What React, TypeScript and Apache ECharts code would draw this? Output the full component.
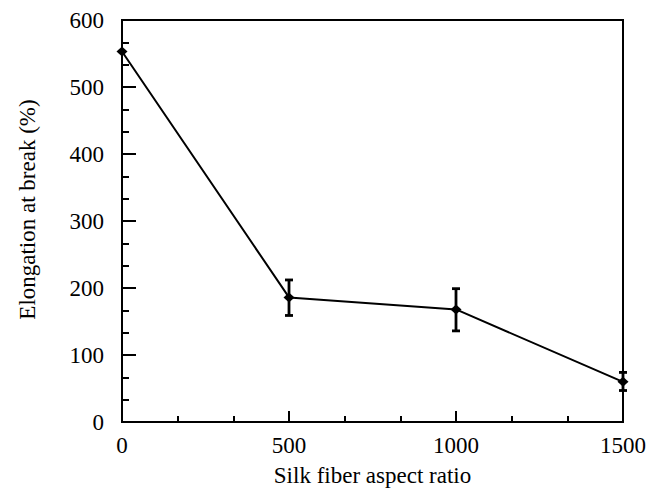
import React, { useEffect, useRef } from "react";
import * as echarts from "echarts";

const xValues = [0, 500, 1000, 1500];
const elongation = [553, 186, 168, 60];
const errX = [500, 1000, 1500];
const errLow = [159, 136, 47];
const errHigh = [212, 199, 74];
const xTitle = "Silk fiber aspect ratio";
const yTitle = "Elongation at break (%)";

const FONT = "'Liberation Serif', 'Times New Roman', serif";

export default function App() {
  const ref = useRef<HTMLDivElement>(null);
  useEffect(() => {
    if (!ref.current) return;
    const chart = echarts.init(ref.current, undefined, { renderer: "svg" });
    const textStyle = { fontFamily: FONT, fontSize: 23, color: "#000" };
    chart.setOption({
      animation: false,
      backgroundColor: "#fff",
      textStyle,
      grid: {
        left: 122,
        right: 36,
        top: 20,
        bottom: 67,
        outerBoundsMode: "none",
        containLabel: false,
        show: true,
        borderColor: "#000",
        borderWidth: 2,
      },
      xAxis: {
        type: "value",
        min: 0,
        max: 1500,
        interval: 500,
        name: xTitle,
        nameLocation: "middle",
        nameGap: 42,
        nameTextStyle: { ...textStyle },
        axisLine: { show: true, lineStyle: { color: "#000", width: 2 } },
        axisTick: { show: true, inside: true, length: 11, lineStyle: { color: "#000", width: 2 } },
        minorTick: { show: true, splitNumber: 3, length: 6, lineStyle: { color: "#000", width: 2 } },
        splitLine: { show: false },
        axisLabel: { ...textStyle, margin: 12, formatter: (v: number) => String(v) },
      },
      yAxis: {
        type: "value",
        min: 0,
        max: 600,
        interval: 100,
        name: yTitle,
        nameLocation: "middle",
        nameGap: 83,
        nameTextStyle: { ...textStyle, padding: [0, 0, 0, 23] },
        axisLine: { show: true, lineStyle: { color: "#000", width: 2 } },
        axisTick: { show: true, inside: true, length: 14, lineStyle: { color: "#000", width: 2 } },
        minorTick: { show: true, splitNumber: 3, length: 7, lineStyle: { color: "#000", width: 2 } },
        splitLine: { show: false },
        axisLabel: { ...textStyle, margin: 18, formatter: (v: number) => String(v) },
      },
      series: [
        {
          type: "line",
          data: xValues.map((x, i) => [x, elongation[i]]),
          symbol: "diamond",
          symbolSize: [11, 10],
          showSymbol: true,
          clip: false,
          lineStyle: { color: "#000", width: 2 },
          itemStyle: { color: "#000" },
          z: 3,
        },
        {
          type: "custom",
          clip: false,
          data: errX.map((x, i) => [x, errLow[i], errHigh[i]]),
          renderItem: (params: any, api: any) => {
            const x = api.value(0);
            const lo = api.coord([x, api.value(1)]);
            const hi = api.coord([x, api.value(2)]);
            const w = 4;
            const style = { stroke: "#000", lineWidth: 2.8 };
            return {
              type: "group",
              children: [
                { type: "line", shape: { x1: lo[0], y1: lo[1], x2: hi[0], y2: hi[1] }, style },
                { type: "line", shape: { x1: lo[0] - w, y1: lo[1], x2: lo[0] + w, y2: lo[1] }, style },
                { type: "line", shape: { x1: hi[0] - w, y1: hi[1], x2: hi[0] + w, y2: hi[1] }, style },
              ],
            };
          },
          z: 4,
        },
      ],
    });
    return () => chart.dispose();
  }, []);
  return (
    <div
      ref={ref}
      style={{ position: "fixed", left: 0, top: 0, width: 659, height: 489 }}
    />
  );
}
